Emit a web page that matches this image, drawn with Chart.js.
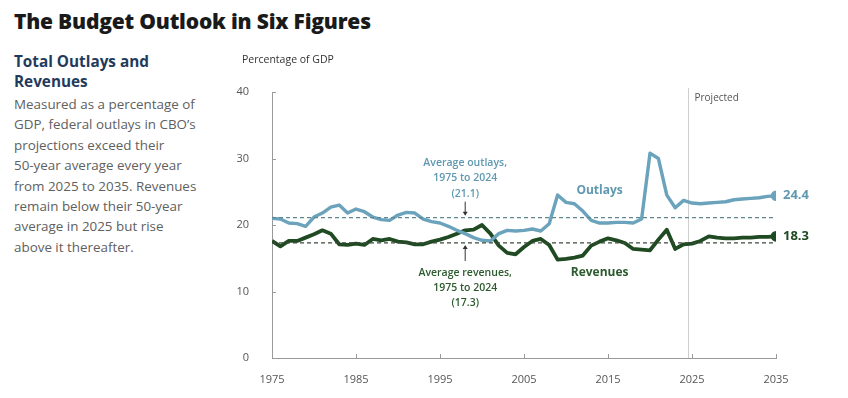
<!DOCTYPE html>
<html>
<head>
<meta charset="utf-8">
<script src="https://cdn.jsdelivr.net/npm/chart.js@4"></script>
<style>
  body { margin: 0; background: #fff; width: 848px; height: 398px; overflow: hidden; position: relative; font-family: "Open Sans", sans-serif; }
  #title { position: absolute; left: 14px; top: 7px; font: 800 21px "Open Sans", sans-serif; color: #1a1a1a; letter-spacing: -0.2px; }
  #sub { position: absolute; left: 14px; top: 51px; font: 700 15.3px/20px "Open Sans", sans-serif; color: #1f3b5c; width: 220px; }
  #body { position: absolute; left: 14px; top: 94px; font: 400 13.4px/20.4px "Open Sans", sans-serif; color: #606060; width: 230px; }
  #wrap { position: absolute; left: 0; top: 0; width: 848px; height: 398px; }
</style>
</head>
<body>
<div id="title">The Budget Outlook in Six Figures</div>
<div id="sub">Total Outlays and<br>Revenues</div>
<div id="body">Measured as a percentage of<br>GDP, federal outlays in CBO’s<br>projections exceed their<br>50-year average every year<br>from 2025 to 2035. Revenues<br>remain below their 50-year<br>average in 2025 but rise<br>above it thereafter.</div>
<div id="wrap"><canvas id="c" width="848" height="398"></canvas></div>
<script>
// fiscal years, actual 1975-2024 and projected 2025-2035
const years = [1975, 1976, 1977, 1978, 1979, 1980, 1981, 1982, 1983, 1984,
  1985, 1986, 1987, 1988, 1989, 1990, 1991, 1992, 1993, 1994,
  1995, 1996, 1997, 1998, 1999, 2000, 2001, 2002, 2003, 2004,
  2005, 2006, 2007, 2008, 2009, 2010, 2011, 2012, 2013, 2014,
  2015, 2016, 2017, 2018, 2019, 2020, 2021, 2022, 2023, 2024,
  2025, 2026, 2027, 2028, 2029, 2030, 2031, 2032, 2033, 2034, 2035];

const outlays = [21.0, 20.9, 20.3, 20.2, 19.8, 21.2, 21.8, 22.7, 23.0, 21.8,
  22.4, 22.0, 21.2, 20.8, 20.7, 21.5, 21.9, 21.8, 20.9, 20.5,
  20.3, 19.8, 19.2, 18.7, 18.1, 17.7, 17.6, 18.7, 19.2, 19.1,
  19.2, 19.4, 19.1, 20.2, 24.5, 23.4, 23.2, 22.1, 20.7, 20.3,
  20.3, 20.4, 20.4, 20.3, 20.9, 30.8, 30.0, 24.5, 22.6, 23.7,
  23.3, 23.2, 23.3, 23.4, 23.5, 23.8, 23.9, 24.0, 24.1, 24.3, 24.4];

const revenues = [17.6, 16.8, 17.6, 17.6, 18.1, 18.6, 19.2, 18.7, 17.1, 17.0,
  17.2, 17.0, 17.9, 17.7, 17.9, 17.5, 17.4, 17.1, 17.1, 17.5,
  17.8, 18.2, 18.7, 19.2, 19.3, 20.0, 18.7, 16.9, 15.8, 15.6,
  16.7, 17.6, 17.9, 17.0, 14.8, 14.9, 15.1, 15.4, 16.9, 17.5,
  18.0, 17.7, 17.3, 16.4, 16.3, 16.2, 17.8, 19.3, 16.4, 17.1,
  17.2, 17.6, 18.3, 18.1, 18.0, 18.0, 18.1, 18.1, 18.2, 18.2, 18.3];

const avgOutlays = 21.1;
const avgRevenues = 17.3;
const projStart = 2024.5;
const yTicks = [0, 10, 20, 30, 40];
const xTicks = [1975, 1985, 1995, 2005, 2015, 2025, 2035];

const blue = '#6aa3bb';
const blueText = '#5f98b0';
const green = '#1f4a22';
const greenText = '#2b5a2d';

const pts = (vals) => years.map((y, i) => ({ x: y, y: vals[i] }));
const lastDot = (n) => years.map((y, i) => i === n - 1 ? 3.5 : 0);

const extras = {
  id: 'extras',
  beforeDatasetsDraw(chart) {
    const { ctx, scales: { x, y } } = chart;
    // projected divider
    const px = Math.round(x.getPixelForValue(projStart)) + 0.5;
    ctx.save();
    ctx.strokeStyle = '#cfcfcf';
    ctx.lineWidth = 1;
    ctx.beginPath();
    ctx.moveTo(px, y.getPixelForValue(40) - 4);
    ctx.lineTo(px, y.getPixelForValue(0));
    ctx.stroke();
    ctx.fillStyle = '#555';
    ctx.font = '10px "Open Sans", sans-serif';
    ctx.textBaseline = 'middle';
    ctx.fillText('Projected', px + 6, y.getPixelForValue(39));
    // inward tick marks
    ctx.strokeStyle = '#9a9a9a';
    ctx.beginPath();
    yTicks.forEach(v => {
      const py = Math.round(y.getPixelForValue(v)) + 0.5;
      ctx.moveTo(x.left, py); ctx.lineTo(x.left + 4, py);
    });
    xTicks.forEach(v => {
      const tx = Math.round(x.getPixelForValue(v)) + 0.5;
      ctx.moveTo(tx, y.bottom); ctx.lineTo(tx, y.bottom - 4);
    });
    ctx.stroke();
    ctx.restore();
  },
  afterDatasetsDraw(chart) {
    const { ctx, scales: { x, y } } = chart;
    ctx.save();
    ctx.textAlign = 'center';
    ctx.textBaseline = 'middle';
    const ax = x.getPixelForValue(1998);
    // average outlays note
    ctx.fillStyle = blueText;
    ctx.font = '600 10.5px "Open Sans", sans-serif';
    const ou = y.getPixelForValue(avgOutlays);
    ['Average outlays,', '1975 to 2024', '(21.1)'].forEach((t, i) => ctx.fillText(t, ax, ou - 55 + i * 15.5));
    // average revenues note
    ctx.fillStyle = greenText;
    const rv = y.getPixelForValue(avgRevenues);
    ['Average revenues,', '1975 to 2024', '(17.3)'].forEach((t, i) => ctx.fillText(t, ax, rv + 30 + i * 15));
    // arrows
    ctx.strokeStyle = '#333';
    ctx.fillStyle = '#333';
    ctx.lineWidth = 1;
    ctx.beginPath();
    ctx.moveTo(ax, ou - 16); ctx.lineTo(ax, ou - 4);
    ctx.moveTo(ax, rv + 18); ctx.lineTo(ax, rv + 4);
    ctx.stroke();
    ctx.beginPath();
    ctx.moveTo(ax - 2.5, ou - 6); ctx.lineTo(ax + 2.5, ou - 6); ctx.lineTo(ax, ou - 2); ctx.closePath();
    ctx.moveTo(ax - 2.5, rv + 6); ctx.lineTo(ax + 2.5, rv + 6); ctx.lineTo(ax, rv + 2); ctx.closePath();
    ctx.fill();
    // series labels
    ctx.font = '700 12px "Open Sans", sans-serif';
    ctx.fillStyle = blueText;
    ctx.fillText('Outlays', x.getPixelForValue(2014), y.getPixelForValue(25.2));
    ctx.fillStyle = greenText;
    ctx.fillText('Revenues', x.getPixelForValue(2014), y.getPixelForValue(12.8));
    // end values
    ctx.textAlign = 'left';
    ctx.font = '700 13px "Open Sans", sans-serif';
    const n = years.length - 1;
    ctx.fillStyle = blueText;
    ctx.fillText(outlays[n].toFixed(1), x.getPixelForValue(years[n]) + 7, y.getPixelForValue(outlays[n]));
    ctx.fillStyle = green;
    ctx.fillText(revenues[n].toFixed(1), x.getPixelForValue(years[n]) + 7, y.getPixelForValue(revenues[n]));
    // axis title
    ctx.fillStyle = '#333';
    ctx.font = '10.5px "Open Sans", sans-serif';
    ctx.fillText('Percentage of GDP', 242, 60);
    ctx.restore();
  }
};

new Chart(document.getElementById('c'), {
  type: 'line',
  data: {
    datasets: [
      { data: [{ x: 1975, y: avgOutlays }, { x: 2035, y: avgOutlays }], borderColor: '#5e8790', borderWidth: 1.3, borderDash: [4, 3], pointRadius: 0 },
      { data: [{ x: 1975, y: avgRevenues }, { x: 2035, y: avgRevenues }], borderColor: '#3d4a3d', borderWidth: 1.3, borderDash: [4, 3], pointRadius: 0 },
      { data: pts(outlays), borderColor: blue, backgroundColor: blue, borderWidth: 3.4, pointRadius: lastDot(years.length), pointHoverRadius: 0, borderJoinStyle: 'round' },
      { data: pts(revenues), borderColor: green, backgroundColor: green, borderWidth: 3.8, pointRadius: lastDot(years.length), pointHoverRadius: 0, borderJoinStyle: 'round' }
    ]
  },
  options: {
    responsive: false,
    animation: false,
    layout: { padding: { left: 225, top: 92, right: 72, bottom: 8 } },
    plugins: { legend: { display: false }, tooltip: { enabled: false } },
    scales: {
      x: {
        type: 'linear', min: 1975, max: 2035,
        afterBuildTicks: (s) => { s.ticks = xTicks.map(v => ({ value: v })); },
        afterFit: (s) => { s.height = 32; },
        grid: { display: false },
        border: { display: true, color: '#9a9a9a' },
        ticks: { color: '#555', font: { family: 'Open Sans', size: 11 }, padding: 7, maxRotation: 0, callback: (v) => String(v) }
      },
      y: {
        min: 0, max: 40,
        afterBuildTicks: (s) => { s.ticks = yTicks.map(v => ({ value: v })); },
        afterFit: (s) => { s.width = 47; },
        grid: { display: false },
        border: { display: true, color: '#9a9a9a' },
        ticks: { color: '#555', font: { family: 'Open Sans', size: 11 }, padding: 15 }
      }
    }
  },
  plugins: [extras]
});
</script>
</body>
</html>
